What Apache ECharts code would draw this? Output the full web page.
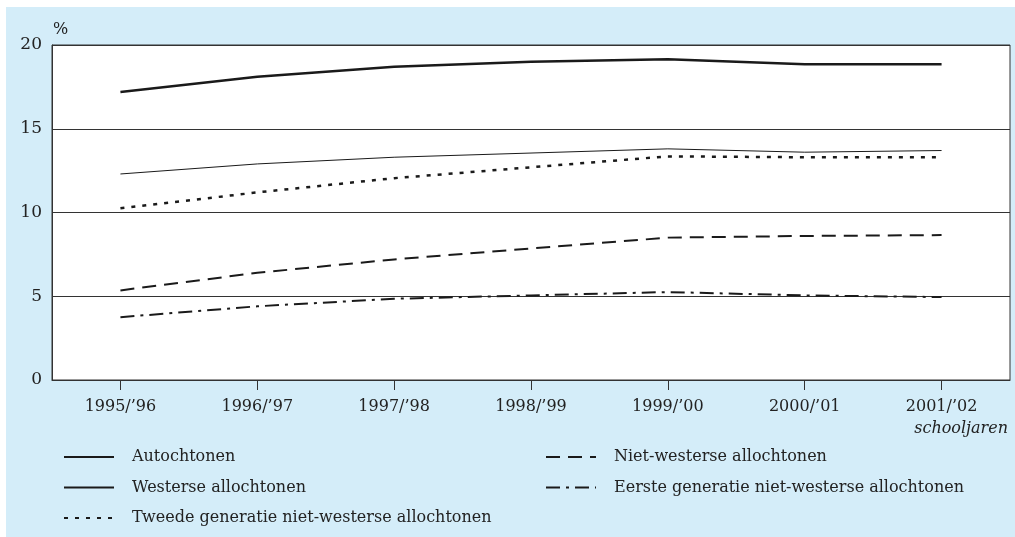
<!DOCTYPE html>
<html>
<head>
<meta charset="utf-8">
<script src="https://cdn.jsdelivr.net/npm/echarts@6/dist/echarts.min.js"></script>
<style>
  body {
    margin: 0;
    background: #fff;
  }
  .main {
    position: absolute;
    left: 6px;
    top: 7px;
    width: 1009px;
    height: 530px;
  }
</style>
</head>
<body>
<!-- chart area, shifted a bit like the printed panel -->
<div id="main" class="main"></div>
<script>
var years = ['1995/\u201996', '1996/\u201997', '1997/\u201998', '1998/\u201999', '1999/\u201900', '2000/\u201901', '2001/\u201902'];
var autochtonen = [17.2, 18.1, 18.7, 19.0, 19.15, 18.85, 18.85];
var westerse = [12.3, 12.9, 13.3, 13.55, 13.8, 13.6, 13.7];
var tweedeGen = [10.25, 11.2, 12.05, 12.7, 13.35, 13.3, 13.3];
var nietWesterse = [5.35, 6.4, 7.2, 7.85, 8.5, 8.6, 8.65];
var eersteGen = [3.75, 4.4, 4.85, 5.05, 5.25, 5.05, 4.95];
var yTicks = [0, 5, 10, 15, 20];

var ink = '#1a1a1a';
var fontFam = 'DejaVu Serif';

function lineSeries(name, data, width, dash) {
  return {
    name: name,
    type: 'line',
    data: data,
    symbol: 'none',
    lineStyle: { color: ink, width: width, type: dash },
    itemStyle: { color: ink }
  };
}

function legendBlock(left, names) {
  return {
    orient: 'vertical',
    left: left,
    top: 442,
    padding: 0,
    itemWidth: 50,
    itemHeight: 18,
    itemGap: 14.5,
    // hide the symbol, keep only the line
    itemStyle: { opacity: 0 },
    data: names,
    textStyle: { fontSize: 16, color: '#222', fontFamily: fontFam, padding: [0, 0, 0, 13] }
  };
}

var option = {
  backgroundColor: '#d4edf9',
  textStyle: { fontFamily: fontFam, color: '#222' },
  grid: {
    left: 46,
    top: 38,
    right: 5,
    bottom: 157,
    show: true,
    backgroundColor: '#fff',
    borderColor: '#333',
    borderWidth: 1
  },
  xAxis: {
    type: 'category',
    data: years,
    boundaryGap: true,
    axisLine: { lineStyle: { color: '#333', width: 1 } },
    axisTick: { show: true, alignWithLabel: true, length: 10, lineStyle: { color: '#333' } },
    axisLabel: { fontSize: 16, color: '#222', margin: 19, fontFamily: fontFam }
  },
  yAxis: {
    type: 'value',
    min: yTicks[0],
    max: yTicks[yTicks.length - 1],
    interval: 5,
    axisLine: { show: true, lineStyle: { color: '#333' } },
    axisTick: { show: false },
    splitLine: { lineStyle: { color: '#333', width: 1 } },
    axisLabel: { fontSize: 17, color: '#222', margin: 10, fontFamily: fontFam }
  },
  legend: [
    legendBlock(57, ['Autochtonen', 'Westerse allochtonen', 'Tweede generatie niet-westerse allochtonen']),
    legendBlock(539, ['Niet-westerse allochtonen', 'Eerste generatie niet-westerse allochtonen'])
  ],
  graphic: [
    {
      type: 'text',
      left: 47,
      top: 15,
      style: { text: '%', fontSize: 16, fontFamily: fontFam, fill: '#222' }
    },
    {
      type: 'text',
      right: 7,
      top: 414,
      style: { text: 'schooljaren', fontSize: 16, fontStyle: 'italic', fontFamily: fontFam, fill: '#222' }
    }
  ],
  series: [
    lineSeries('Autochtonen', autochtonen, 2.5, 'solid'),
    lineSeries('Westerse allochtonen', westerse, 1, 'solid'),
    lineSeries('Tweede generatie niet-westerse allochtonen', tweedeGen, 2.5, [4, 7]),
    lineSeries('Niet-westerse allochtonen', nietWesterse, 2, [14, 8]),
    lineSeries('Eerste generatie niet-westerse allochtonen', eersteGen, 2, [14, 6, 3, 6])
  ]
};

var chart = echarts.init(document.getElementById('main'));
chart.setOption(option);
window.onresize = function () {
  chart.resize();
};
</script>
</body>
</html>
